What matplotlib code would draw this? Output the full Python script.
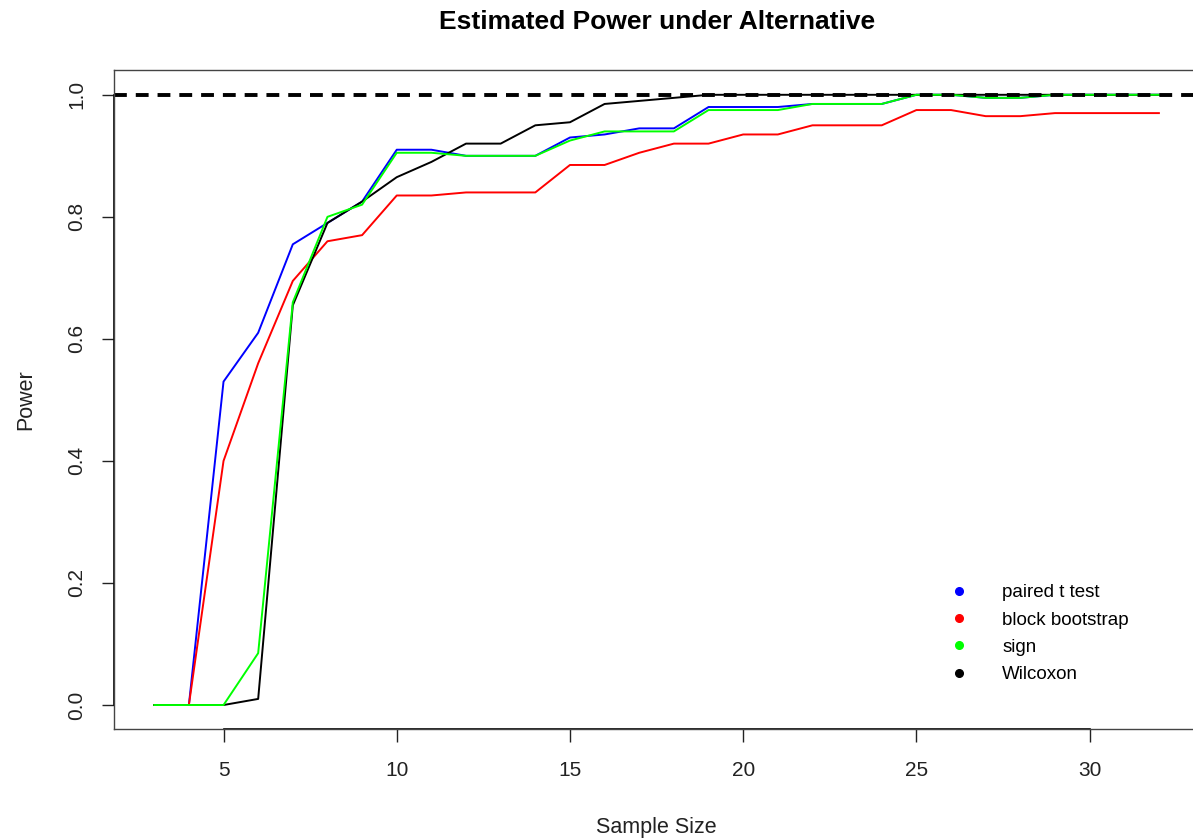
import matplotlib
matplotlib.use("Agg")
import matplotlib.pyplot as plt

plt.rcParams['font.family'] = ['Liberation Sans', 'DejaVu Sans']

# sample sizes and estimated power for each test
sample_size = list(range(3, 33))
paired_t = [0, 0, 0.53, 0.61, 0.755, 0.79, 0.825, 0.91, 0.91, 0.90,
            0.90, 0.90, 0.93, 0.935, 0.945, 0.945, 0.98, 0.98, 0.98, 0.985,
            0.985, 0.985, 1.0, 1.0, 0.995, 0.995, 1.0, 1.0, 1.0, 1.0]
block_boot = [0, 0, 0.40, 0.56, 0.695, 0.76, 0.77, 0.835, 0.835, 0.84,
              0.84, 0.84, 0.885, 0.885, 0.905, 0.92, 0.92, 0.935, 0.935, 0.95,
              0.95, 0.95, 0.975, 0.975, 0.965, 0.965, 0.97, 0.97, 0.97, 0.97]
sign_test = [0, 0, 0, 0.085, 0.66, 0.80, 0.82, 0.905, 0.905, 0.90,
             0.90, 0.90, 0.925, 0.94, 0.94, 0.94, 0.975, 0.975, 0.975, 0.985,
             0.985, 0.985, 1.0, 1.0, 0.995, 0.995, 1.0, 1.0, 1.0, 1.0]
wilcoxon = [0, 0, 0, 0.01, 0.655, 0.79, 0.825, 0.865, 0.89, 0.92,
            0.92, 0.95, 0.955, 0.985, 0.99, 0.995, 1.0, 1.0, 1.0, 1.0,
            1.0, 1.0, 1.0, 1.0, 1.0, 1.0, 1.0, 1.0, 1.0, 1.0]

labels = ['paired t test', 'block bootstrap', 'sign', 'Wilcoxon']
colors = ['#0000ff', '#ff0000', '#00ff00', '#000000']
xticks = [5, 10, 15, 20, 25, 30]
yticks = [0.0, 0.2, 0.4, 0.6, 0.8, 1.0]

fig = plt.figure(figsize=(11.93, 8.39), dpi=100)
ax = fig.add_axes([0.0956, 0.1306, 0.9095, 0.7855])

lw = 1.4
ax.plot(sample_size, paired_t, color=colors[0], lw=lw)
ax.plot(sample_size, block_boot, color=colors[1], lw=lw)
ax.plot(sample_size, wilcoxon, color=colors[3], lw=lw)
ax.plot(sample_size, sign_test, color=colors[2], lw=lw)
ax.axhline(1.0, color='black', lw=2.8, dashes=(3.3, 2.3))

span = sample_size[-1] - sample_size[0]
ax.set_xlim(sample_size[0] - 0.04 * span, sample_size[-1] + 0.04 * span)
ax.set_ylim(-0.04, 1.04)

ax.set_xticks(xticks)
ax.set_yticks(yticks)
ax.set_yticklabels(['%.1f' % v for v in yticks], rotation=90, va='center')
ax.tick_params(axis='both', direction='out', length=9, width=1.0,
               labelsize=15, color='#222222', labelcolor='#222222')
ax.tick_params(axis='x', pad=14)
ax.tick_params(axis='y', pad=11)

for s in ax.spines.values():
    s.set_linewidth(1.0)
    s.set_color('#444444')

# base-graphics style axis lines running only between the outer ticks
ax.plot([xticks[0], xticks[-1]], [0, 0], transform=ax.get_xaxis_transform(),
        color='black', lw=1.2, clip_on=False)
ax.plot([0, 0], [yticks[0], yticks[-1]], transform=ax.get_yaxis_transform(),
        color='black', lw=1.2, clip_on=False)

ax.set_title('Estimated Power under Alternative', fontsize=19,
             fontweight='bold', pad=30)
ax.set_xlabel('Sample Size', fontsize=15.5, color='#222222')
ax.set_ylabel('Power', fontsize=15.5, color='#222222')
ax.xaxis.set_label_coords(0.5, -0.133)
ax.yaxis.set_label_coords(-0.072, 0.5)

handles = [plt.Line2D([], [], ls='none', marker='o', ms=5.5, color=c)
           for c in colors]
ax.legend(handles, labels, loc='upper left', bbox_to_anchor=(0.796, 0.304),
          bbox_transform=fig.transFigure, frameon=False, fontsize=13.5,
          handlelength=1.0, handletextpad=1.8, labelspacing=0.55,
          borderpad=0, borderaxespad=0)

fig.savefig('out.png', dpi=100)
